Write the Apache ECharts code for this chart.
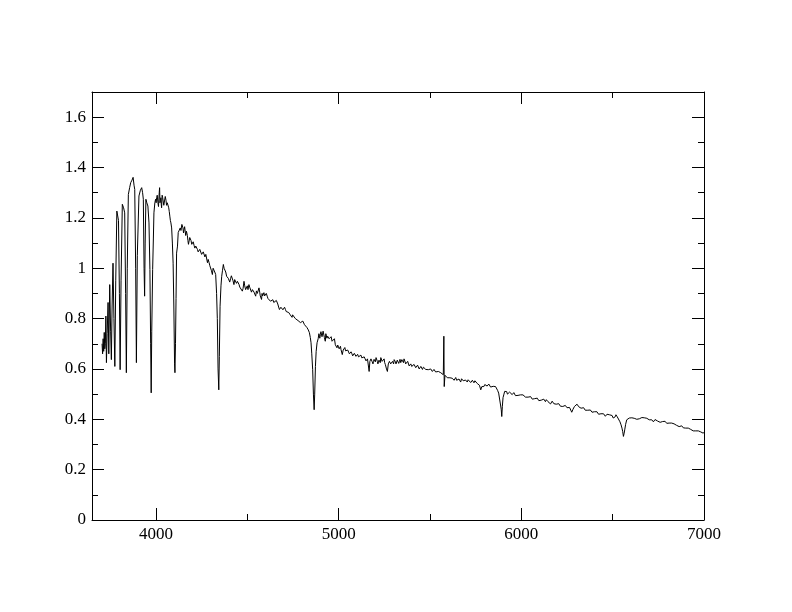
<!DOCTYPE html>
<html>
<head>
<meta charset="utf-8">
<script src="https://cdn.jsdelivr.net/npm/echarts@6/dist/echarts.min.js"></script>
<style>
html,body{margin:0;padding:0;background:#fff;}
#chart{width:792px;height:612px;}
</style>
</head>
<body>
<div id="chart"></div>
<script>
// Spectrum: [wavelength (Angstrom), flux]
const specBalmer = [
[3705,0.70],[3708,0.66],[3711,0.72],[3714,0.67],[3717,0.745],[3720,0.68],[3723,0.70],[3726,0.81],[3729,0.625],[3733,0.74],
[3738,0.864],[3742,0.66],[3747,0.935],[3752,0.75],[3756,0.637],[3760,0.85],[3765,1.02],[3770,0.80],[3775,0.61],[3780,0.95],
[3786,1.227],[3795,1.19],[3800,0.90],[3804,0.597],[3809,0.95],[3816,1.254],[3823,1.24],[3829,1.22],[3834,0.90],[3838,0.585],
[3843,1.00],[3849,1.293],[3856,1.32],[3862,1.34],[3869,1.35],[3875,1.361],[3880,1.33],[3884,1.313],[3889,1.00],[3893,0.625],
[3898,1.05],[3907,1.287],[3915,1.31],[3922,1.32],[3927,1.30],[3931,1.274],[3935,1.00],[3938,0.889],[3941,1.10],[3945,1.274],
[3950,1.26],[3956,1.247],[3962,1.18],[3967,0.995],[3971,0.70],[3974,0.505],[3977,0.75],[3982,0.995],[3986,1.12],[3989,1.22],
[3994,1.26],[3998,1.274],[4004,1.28],[4011,1.26],[4016,1.25],[4020,1.32],[4025,1.27],[4029,1.254],[4034,1.29],[4040,1.274],
[4047,1.254],[4055,1.27],[4062,1.26],[4070,1.24],[4076,1.207],[4082,1.18],[4086,1.16],[4090,1.10],[4094,1.02],[4098,0.85],
[4102,0.62],[4104,0.585],[4107,0.70],[4110,0.88],[4113,1.06],[4118,1.088],[4122,1.142],[4127,1.142],[4133,1.16],[4142,1.174],
[4148,1.16],[4154,1.154],[4160,1.17],[4167,1.147],[4172,1.13],[4178,1.095],[4185,1.122],[4192,1.11],[4200,1.102],[4209,1.09],
[4218,1.088],[4227,1.075],[4236,1.068],[4245,1.07],[4255,1.062],[4264,1.058],[4273,1.055],[4282,1.022],[4291,1.022],[4300,1.003],
[4309,0.975],[4318,1.003],[4327,0.975],[4332,0.90],[4336,0.80],[4340,0.60],[4344,0.517],[4347,0.65],[4351,0.849],[4356,0.93],
[4360,0.968],[4369,1.015],[4378,1.003],[4387,0.968],[4393,0.975],[4400,0.955],[4409,0.96],[4418,0.963],[4427,0.935],[4436,0.95],
[4446,0.948],[4455,0.935],[4464,0.922],[4473,0.909],[4482,0.948],[4491,0.915],[4500,0.93],[4509,0.935],[4518,0.92],[4528,0.915],
[4537,0.905],[4546,0.889],[4555,0.90],[4564,0.922],[4571,0.89],[4578,0.876],[4584,0.89],[4591,0.903],[4600,0.895],[4609,0.889],
[4618,0.875],[4627,0.869],[4636,0.87],[4645,0.864],[4655,0.86],[4664,0.869],[4670,0.85],[4676,0.836],[4684,0.845],[4691,0.849],
[4700,0.84],[4709,0.836],[4718,0.83],[4727,0.824],[4735,0.815],[4742,0.809],[4748,0.815],[4754,0.816],[4763,0.80],[4773,0.796],
[4782,0.79],[4791,0.784],[4800,0.785],[4809,0.784],[4818,0.775],[4827,0.764],[4834,0.755],[4840,0.744],[4845,0.725],[4849,0.704],
[4853,0.66],[4858,0.597],[4862,0.50],[4866,0.438],[4869,0.50],[4873,0.61],[4877,0.67],[4882,0.704],[4888,0.72],[4895,0.73]
];
const specGreen = [
[4900,0.736],[4906,0.744],[4912,0.735],[4918,0.744],[4927,0.71],[4933,0.735],[4940,0.73],[4948,0.72],[4955,0.724],[4964,0.71],
[4973,0.716],[4982,0.696],[4991,0.684],[5000,0.69],[5007,0.685],[5013,0.677],[5020,0.657],[5025,0.675],[5031,0.68],[5038,0.672],
[5046,0.67],[5055,0.668],[5064,0.664],[5073,0.66],[5082,0.657],[5091,0.66],[5100,0.653],[5109,0.648],[5118,0.65],[5127,0.644],
[5136,0.645],[5145,0.64],[5155,0.637],[5162,0.635],[5167,0.59],[5171,0.63],[5177,0.64],[5184,0.628],[5191,0.63],[5198,0.64],
[5205,0.645],[5212,0.63],[5218,0.625],[5225,0.64],[5231,0.645],[5238,0.63],[5246,0.637],[5252,0.625],[5256,0.617],[5262,0.60],
[5267,0.59],[5272,0.62],[5278,0.63],[5285,0.62],[5291,0.625],[5298,0.635],[5304,0.637],[5311,0.628],[5318,0.625],[5325,0.632],
[5333,0.63],[5340,0.625],[5346,0.637],[5352,0.63],[5358,0.64],[5364,0.628],[5369,0.617],[5375,0.622],[5382,0.625],[5391,0.615],
[5400,0.61],[5409,0.615],[5418,0.617],[5427,0.61],[5437,0.61],[5446,0.605],[5455,0.604],[5464,0.607],[5473,0.604],[5482,0.60],
[5491,0.597],[5500,0.60],[5509,0.597],[5518,0.595],[5527,0.597],[5536,0.592],[5546,0.59],[5552,0.588],[5559,0.585],[5566,0.58],
[5573,0.577],[5576,0.73],[5578,0.53],[5582,0.575],[5587,0.57],[5591,0.57],[5600,0.567],[5609,0.565],[5618,0.56],[5627,0.557],
[5637,0.562],[5646,0.555],[5655,0.557],[5664,0.553],[5673,0.561],[5682,0.553],[5691,0.55],[5700,0.553],[5709,0.557],[5718,0.552],
[5728,0.55],[5737,0.548],[5746,0.553],[5755,0.548],[5764,0.544],[5771,0.535],[5778,0.517],[5784,0.53],[5791,0.534],[5800,0.538],
[5809,0.54],[5818,0.535],[5827,0.534],[5836,0.53],[5846,0.531],[5855,0.527],[5864,0.524],[5870,0.515],[5876,0.504],[5882,0.50],
[5886,0.497],[5890,0.44],[5893,0.411],[5896,0.45],[5900,0.486],[5905,0.50],[5909,0.511],[5916,0.505],[5924,0.50],[5930,0.506],
[5936,0.508],[5945,0.505],[5955,0.504],[5964,0.50],[5973,0.497],[5982,0.495],[5991,0.491]
];
const specRed = [
[6000,0.494],[6009,0.497],[6018,0.492],[6028,0.491],[6037,0.488],[6046,0.487],[6055,0.485],[6064,0.484],[6073,0.482],[6082,0.487],
[6091,0.48],[6100,0.478],[6109,0.476],[6118,0.478],[6127,0.475],[6137,0.478],[6146,0.47],[6155,0.464],[6164,0.468],[6173,0.471],
[6182,0.465],[6191,0.46],[6200,0.462],[6209,0.458],[6218,0.455],[6227,0.451],[6236,0.453],[6246,0.451],[6255,0.45],[6264,0.447],
[6270,0.44],[6276,0.428],[6283,0.44],[6291,0.451],[6300,0.455],[6309,0.458],[6318,0.447],[6327,0.444],[6337,0.444],[6346,0.44],
[6355,0.438],[6364,0.436],[6373,0.434],[6382,0.432],[6391,0.431],[6400,0.43],[6409,0.428],[6418,0.426],[6427,0.424],[6436,0.422],
[6446,0.421],[6455,0.418],[6464,0.415],[6473,0.417],[6482,0.418],[6490,0.416],[6497,0.415],[6503,0.405],[6509,0.398],[6514,0.41],
[6518,0.418],[6525,0.41],[6533,0.405],[6540,0.39],[6546,0.378],[6551,0.365],[6555,0.351],[6559,0.332],[6563,0.345],[6566,0.358],
[6571,0.38],[6577,0.398],[6584,0.402],[6591,0.405],[6600,0.403],[6609,0.402],[6618,0.404],[6628,0.405],[6637,0.403],[6646,0.402],
[6655,0.404],[6664,0.405],[6673,0.406],[6682,0.408],[6691,0.402],[6700,0.398],[6709,0.396],[6718,0.394],[6728,0.396],[6737,0.398],
[6746,0.393],[6755,0.391],[6764,0.392],[6773,0.391],[6782,0.39],[6791,0.389],[6800,0.387],[6809,0.385],[6818,0.383],[6827,0.381],
[6836,0.382],[6846,0.381],[6855,0.376],[6864,0.371],[6873,0.372],[6882,0.371],[6891,0.368],[6900,0.365],[6909,0.364],[6918,0.362],
[6927,0.36],[6937,0.358],[6946,0.356],[6955,0.354],[6964,0.352],[6973,0.351],[6982,0.35],[6991,0.349],[7000,0.348]
];
// Extra readings of the small-scale noise between the points above
const specNoiseBlue = [
[4001,1.26],[4007,1.29],[4014,1.245],[4018,1.30],[4022,1.26],[4027,1.28],[4031,1.24],[4037,1.28],[4043,1.25],[4051,1.285],
[4058,1.25],[4066,1.255],[4073,1.225],[4079,1.19],
[4137,1.15],[4145,1.18],[4151,1.14],[4157,1.165],[4163,1.13],[4170,1.14],[4175,1.11],[4181,1.10],[4188,1.125],[4196,1.095],
[4204,1.105],[4213,1.08],[4222,1.09],[4231,1.065],[4240,1.075],[4250,1.055],[4259,1.065],[4268,1.045],[4277,1.05],[4286,1.035],
[4295,1.01],[4304,0.99],[4313,1.0],[4322,0.985],
[4364,0.99],[4373,1.0],[4382,0.985],[4396,0.96],[4404,0.945],[4413,0.97],[4422,0.95],[4431,0.955],[4441,0.94],[4450,0.955],
[4459,0.925],[4468,0.93],[4477,0.92],[4486,0.93],[4495,0.92],[4504,0.915],[4513,0.925],[4523,0.905],[4532,0.92],[4541,0.9],
[4550,0.91],[4559,0.895],[4568,0.905],[4575,0.885],[4581,0.9],[4587,0.885],[4595,0.89],[4604,0.9],[4613,0.88],[4622,0.885],
[4631,0.862],[4640,0.875],[4650,0.858],[4659,0.872],[4667,0.858],[4673,0.845],[4680,0.838],[4688,0.85],[4695,0.835],[4704,0.845],
[4713,0.828],[4722,0.835],[4731,0.818],[4738,0.822],[4745,0.805],[4751,0.818],[4758,0.808],[4768,0.802],[4778,0.792],[4786,0.795],
[4795,0.78],[4804,0.79],[4813,0.776],[4822,0.77],[4830,0.76]
];
const specNoiseGreen = [
[4892,0.74],[4897,0.722],[4903,0.748],[4909,0.728],[4915,0.75],[4922,0.725],[4930,0.74],[4936,0.722],[4944,0.732],[4951,0.715],
[4959,0.728],[4968,0.705],[4977,0.72],[4986,0.69],[4995,0.695],[5003,0.68],[5010,0.69],[5016,0.67],[5028,0.668],[5034,0.685],
[5042,0.665],[5050,0.675],[5059,0.66],[5068,0.668],[5077,0.652],[5086,0.662],[5095,0.65],[5104,0.658],[5113,0.645],[5122,0.655],
[5131,0.64],[5140,0.648],[5150,0.632],[5158,0.64],[5181,0.635],[5188,0.62],[5194,0.638],[5201,0.628],[5208,0.648],[5215,0.62],
[5221,0.635],[5228,0.625],[5235,0.648],[5242,0.625],[5249,0.64],[5282,0.635],[5288,0.615],[5295,0.63],[5301,0.62],[5307,0.64],
[5314,0.62],[5321,0.635],[5329,0.622],[5336,0.638],[5343,0.62],[5349,0.64],[5355,0.625],[5361,0.645],[5367,0.62],[5378,0.63],
[5386,0.612],[5395,0.62],[5404,0.605],[5413,0.618],[5422,0.605],[5432,0.615],[5441,0.6],[5450,0.61],[5459,0.598],[5468,0.61],
[5477,0.598],[5486,0.602],[5495,0.59],[5504,0.6],[5513,0.59],[5522,0.598],[5531,0.588],[5541,0.595],[5549,0.584],[5556,0.59],
[5563,0.582],[5569,0.585],
[5595,0.565],[5604,0.57],[5613,0.56],[5622,0.563],[5632,0.555],[5641,0.566],[5650,0.55],[5659,0.56],[5668,0.548],[5677,0.556],
[5686,0.548],[5695,0.556],[5704,0.548],[5713,0.56],[5723,0.546],[5732,0.555],[5741,0.545],[5750,0.555],[5759,0.542],[5795,0.53],
[5804,0.545],[5813,0.532],[5822,0.54],[5832,0.528],[5841,0.535],[5850,0.525],[5859,0.53],[5920,0.51],[5927,0.495],[5940,0.51],
[5950,0.498],[5959,0.506],[5968,0.494],[5978,0.5],[5987,0.488],[5995,0.497]
];
const specNoiseRed = [
[6005,0.49],[6014,0.5],[6023,0.488],[6032,0.494],[6042,0.484],[6051,0.49],[6060,0.48],[6069,0.487],[6078,0.479],[6087,0.484],
[6096,0.474],[6105,0.48],[6114,0.472],[6123,0.48],[6132,0.47],[6141,0.474],[6150,0.468],[6160,0.461],[6169,0.472],[6178,0.462],
[6187,0.466],[6196,0.456],[6205,0.462],[6214,0.452],[6223,0.458],[6232,0.448],[6241,0.455],[6250,0.446],[6259,0.452],[6296,0.45],
[6305,0.46],[6314,0.45],[6323,0.448],[6332,0.44],[6341,0.446],[6350,0.436],[6359,0.44],[6368,0.432],[6378,0.437],[6387,0.428],
[6396,0.434],[6405,0.426],[6414,0.43],[6423,0.42],[6432,0.426],[6441,0.418],[6450,0.422],[6460,0.412],[6469,0.42],[6478,0.414],
[6486,0.42],[6596,0.4],[6605,0.406],[6614,0.4],[6623,0.408],[6632,0.4],[6641,0.405],[6650,0.4],[6660,0.407],[6669,0.402],
[6678,0.41],[6687,0.404],[6696,0.4],[6705,0.393],[6714,0.398],[6723,0.39],[6732,0.399],[6741,0.392],[6750,0.395],[6760,0.388],
[6769,0.394],[6778,0.387],[6787,0.392],[6796,0.384],[6805,0.388],[6814,0.38],[6823,0.385],[6832,0.378],[6841,0.384],[6850,0.376],
[6860,0.374],[6869,0.368],[6878,0.374],[6887,0.366],[6896,0.369],[6905,0.36],[6914,0.365],[6923,0.358],[6932,0.362],[6941,0.354],
[6950,0.357],[6960,0.35],[6969,0.354],[6978,0.347],[6987,0.352],[6995,0.345]
];

const xMajorTicks = [4000, 5000, 6000, 7000];
const xMinorTicks = [4500, 5500, 6500];
const yMajorTicks = [0, 0.2, 0.4, 0.6, 0.8, 1, 1.2, 1.4, 1.6];
const yMinorTicks = [0.1, 0.3, 0.5, 0.7, 0.9, 1.1, 1.3, 1.5];
const xRange = [3650, 7000];
const yRange = [0, 1.7];

const spectrum = specBalmer.concat(specGreen, specRed, specNoiseBlue, specNoiseGreen, specNoiseRed)
  .sort((a, b) => a[0] - b[0]);

const FONT = '"Liberation Serif", "Times New Roman", serif';
const black = '#000';

function axis(pos, range, ticks, len, showLine, showLabel) {
  return {
    type: 'value', position: pos, min: range[0], max: range[1],
    axisLine: { show: showLine, onZero: false, lineStyle: { color: black, width: 1 } },
    axisTick: { show: true, inside: true, length: len, customValues: ticks, lineStyle: { color: black, width: 1 } },
    axisLabel: showLabel ? {
      show: true, customValues: ticks, color: black, fontFamily: FONT, fontSize: 17, margin: 6,
      formatter: v => String(v)
    } : { show: false },
    splitLine: { show: false }
  };
}

const chart = echarts.init(document.getElementById('chart'), null, { renderer: 'canvas' });
chart.setOption({
  animation: false,
  backgroundColor: '#fff',
  grid: { left: 92, top: 92, width: 612, height: 428, containLabel: false },
  xAxis: [
    axis('bottom', xRange, xMajorTicks, 12, true, true),
    axis('bottom', xRange, xMinorTicks, 6, false, false),
    axis('top', xRange, xMajorTicks, 12, true, false),
    axis('top', xRange, xMinorTicks, 6, false, false)
  ],
  yAxis: [
    axis('left', yRange, yMajorTicks, 12, true, true),
    axis('left', yRange, yMinorTicks, 6, false, false),
    axis('right', yRange, yMajorTicks, 12, true, false),
    axis('right', yRange, yMinorTicks, 6, false, false)
  ],
  series: [{
    type: 'line',
    xAxisIndex: 0, yAxisIndex: 0,
    data: spectrum,
    showSymbol: false,
    symbol: 'none',
    lineStyle: { color: black, width: 1 },
    clip: true
  }]
});
</script>
</body>
</html>
